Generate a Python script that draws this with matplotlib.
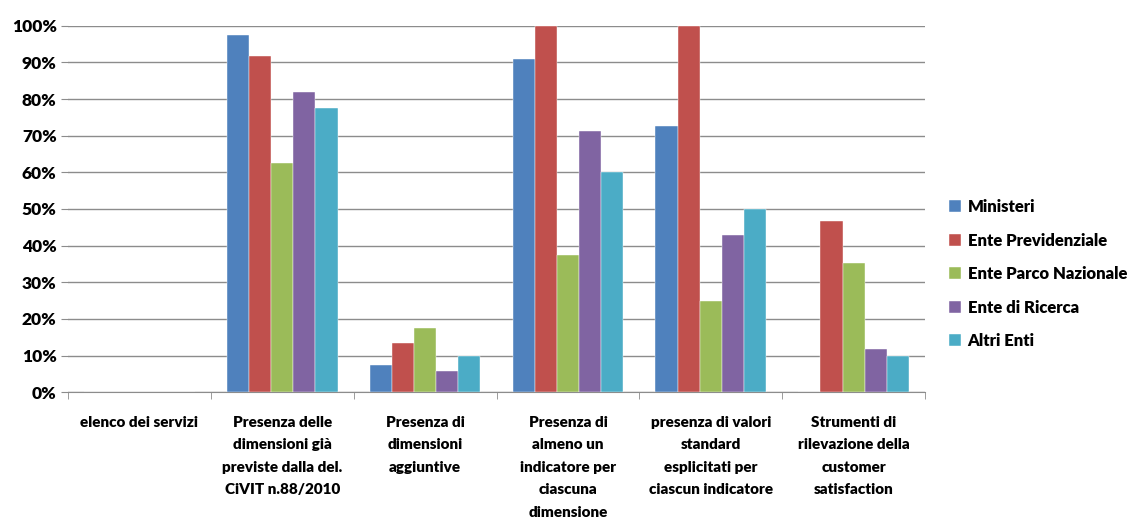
import matplotlib
matplotlib.use("Agg")
import matplotlib.pyplot as plt
import numpy as np
from matplotlib.ticker import FixedLocator, PercentFormatter

categories = [
    "elenco dei servizi",
    "Presenza delle\ndimensioni già\npreviste dalla del.\nCiVIT n.88/2010",
    "Presenza di\ndimensioni\naggiuntive",
    "Presenza di\nalmeno un\nindicatore per\nciascuna\ndimensione",
    "presenza di valori\nstandard\nesplicitati per\nciascun indicatore",
    "Strumenti di\nrilevazione della\ncustomer\nsatisfaction",
]
series_names = ["Ministeri", "Ente Previdenziale", "Ente Parco Nazionale",
                "Ente di Ricerca", "Altri Enti"]
ministeri = [0, 97.6, 7.3, 90.9, 72.7, 0]
ente_prev = [0, 91.7, 13.3, 100, 100, 46.7]
ente_parco = [0, 62.5, 17.6, 37.5, 25.0, 35.3]
ente_ricerca = [0, 81.8, 5.7, 71.4, 42.9, 11.8]
altri_enti = [0, 77.5, 10.0, 60.0, 50.0, 10.0]
yticks = [0, 10, 20, 30, 40, 50, 60, 70, 80, 90, 100]

colors = ["#4F81BD", "#C0504D", "#9BBB59", "#8064A2", "#4BACC6"]
data = [ministeri, ente_prev, ente_parco, ente_ricerca, altri_enti]

font = ["Lato", "DejaVu Sans"]
plt.rcParams["font.family"] = font
W = "heavy"
plt.rcParams["font.weight"] = W

fig = plt.figure(figsize=(11.31, 5.25), dpi=100)
ax = fig.add_axes([0.060, 0.253, 0.758, 0.698])

x = np.arange(len(categories))
bw = 0.155
for i, (vals, c, name) in enumerate(zip(data, colors, series_names)):
    ax.bar(x + (i - 2) * bw, vals, bw, color=c, label=name, zorder=3,
           edgecolor="white", linewidth=0.3)

ax.set_xlim(-0.5, len(categories) - 0.5)
ax.set_ylim(0, 100)
ax.yaxis.set_major_locator(FixedLocator(yticks))
ax.yaxis.set_major_formatter(PercentFormatter(decimals=0))
ax.grid(axis="y", color="#8c8c8c", linewidth=1.0, zorder=0)
ax.set_axisbelow(True)

for s in ["top", "right", "left"]:
    ax.spines[s].set_visible(False)
ax.spines["bottom"].set_color("#8c8c8c")

ax.set_xticks(x)
ax.set_xticklabels(categories, fontsize=11, fontweight=W,
                   linespacing=1.86, va="top")
ax.tick_params(axis="x", length=0, pad=17)
ax.set_xticks(np.arange(-0.5, len(categories)), minor=True)
ax.tick_params(axis="x", which="minor", length=5, color="#8c8c8c")
ax.tick_params(axis="y", length=5, color="#8c8c8c", labelsize=12.5, pad=3)
for t in ax.get_yticklabels():
    t.set_fontweight(W)

leg = fig.legend(loc="center left", bbox_to_anchor=(0.826, 0.478), frameon=False,
                 fontsize=12, handlelength=0.7, handleheight=0.7,
                 labelspacing=1.05, handletextpad=0.4)
for t in leg.get_texts():
    t.set_fontweight(W)

fig.savefig("out.png", dpi=100)
